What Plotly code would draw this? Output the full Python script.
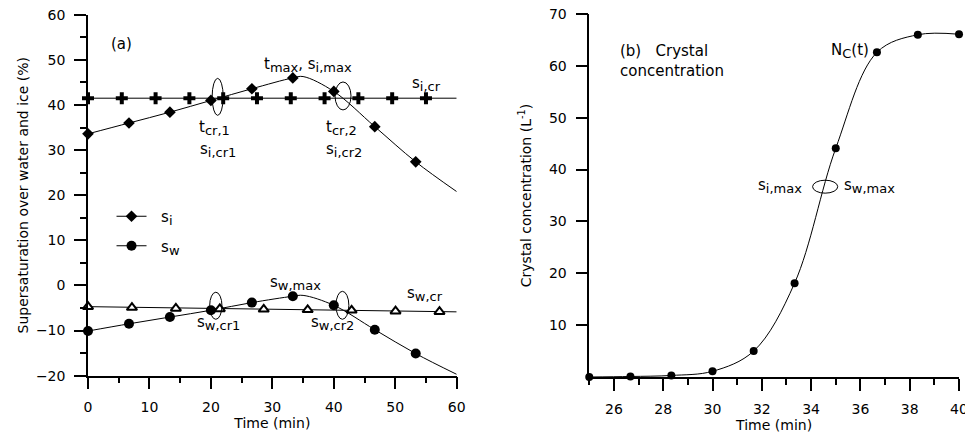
import plotly.graph_objects as go

# ---- Panel (a): supersaturation over ice (s_i) and water (s_w) ----
si_t = [0, 6.67, 13.33, 20, 26.67, 33.33, 40, 46.67, 53.33]
si_val = [33.6, 36.0, 38.4, 41.0, 43.6, 46.0, 43.0, 35.2, 27.4]
si_curve_t = [0, 6.67, 13.33, 20, 26.67, 33.33, 35, 40, 46.67, 53.33, 60]
si_curve_val = [33.6, 36.0, 38.4, 41.0, 43.6, 46.0, 46.3, 43.0, 35.2, 27.4, 20.8]

sw_t = [0, 6.67, 13.33, 20, 26.67, 33.33, 40, 46.67, 53.33]
sw_val = [-10.1, -8.5, -7.0, -5.5, -3.8, -2.4, -4.4, -9.8, -15.1]
sw_curve_t = [0, 6.67, 13.33, 20, 26.67, 33.33, 35, 40, 46.67, 53.33, 60]
sw_curve_val = [-10.1, -8.5, -7.0, -5.5, -3.8, -2.4, -2.2, -4.4, -9.8, -15.1, -19.7]

sicr_t = [0, 5.5, 11, 16.5, 22, 27.5, 33, 38.5, 44, 49.5, 55]
sicr_val = [41.5] * len(sicr_t)
sicr_line_t = [0, 60]
sicr_line_val = [41.5, 41.5]

swcr_t = [0, 7.15, 14.3, 21.45, 28.6, 35.75, 42.9, 50.05, 57.2]
swcr_val = [-4.7, -4.9, -5.1, -5.2, -5.3, -5.4, -5.5, -5.7, -5.8]
swcr_line_t = [0, 60]
swcr_line_val = [-4.7, -5.85]

# ---- Panel (b): crystal concentration ----
nc_t = [25, 26.67, 28.33, 30, 31.67, 33.33, 35, 36.67, 38.33, 40]
nc_val = [0.0, 0.1, 0.3, 1.1, 5.0, 18.1, 44.1, 62.6, 66.0, 66.1]

FONT = "DejaVu Sans"
BLACK = "#000000"
ANN_SIZE = 15


def sub(s):
    """Subscript rendered close to full size."""
    return "<sub><span style='font-size:13px'>%s</span></sub>" % s


fig = go.Figure()


def line(x, y, xa="x", ya="y", shape="linear"):
    fig.add_trace(go.Scatter(x=x, y=y, mode="lines", xaxis=xa, yaxis=ya,
                             line=dict(color=BLACK, width=1, shape=shape, smoothing=1.0),
                             showlegend=False, hoverinfo="skip", cliponaxis=False))


def markers(x, y, symbol, size, xa="x", ya="y", fill=BLACK, lw=0):
    fig.add_trace(go.Scatter(x=x, y=y, mode="markers", xaxis=xa, yaxis=ya,
                             marker=dict(symbol=symbol, size=size, color=fill,
                                         line=dict(color=BLACK, width=lw)),
                             showlegend=False, cliponaxis=False))


line(sicr_line_t, sicr_line_val)
line(swcr_line_t, swcr_line_val)
line(si_curve_t, si_curve_val, shape="spline")
line(sw_curve_t, sw_curve_val, shape="spline")
markers(sicr_t, sicr_val, "cross", 10)
markers(swcr_t, swcr_val, "triangle-up", 9, fill="white", lw=2)
markers(si_t, si_val, "diamond", 9)
markers(sw_t, sw_val, "circle", 10)

line(nc_t, nc_val, "x2", "y2", shape="spline")
markers(nc_t, nc_val, "circle", 8, "x2", "y2")

# legend entries for panel (a)
NB = "\u00a0\u00a0"
for name, sym, sz, grp in [(NB + "s" + sub("i"), "diamond", 9, "a"),
                           (NB + "s" + sub("w"), "circle", 10, "b")]:
    fig.add_trace(go.Scatter(x=[None], y=[None], mode="lines+markers", name=name,
                             legendgroup=grp,
                             line=dict(color=BLACK, width=1),
                             marker=dict(symbol=sym, size=sz, color=BLACK)))

# annotations
ann = []


def txt(x, y, s, xa="x", ya="y", xanchor="center", align="center"):
    ann.append(dict(x=x, y=y, xref=xa, yref=ya, text=s, showarrow=False,
                    xanchor=xanchor, yanchor="middle", align=align,
                    font=dict(family=FONT, size=ANN_SIZE, color=BLACK)))


txt(5.4, 53.5, "(a)")
txt(35.8, 48.8, "t" + sub("max") + ", s" + sub("i,max"))
txt(55.1, 44.6, "s" + sub("i,cr"))
txt(20.6, 34.9, "t" + sub("cr,1"))
txt(21.1, 30.0, "s" + sub("i,cr1"))
txt(41.3, 34.9, "t" + sub("cr,2"))
txt(41.7, 30.0, "s" + sub("i,cr2"))
txt(33.8, 0.6, "s" + sub("w,max"))
txt(54.8, -2.0, "s" + sub("w,cr"))
txt(21.3, -8.4, "s" + sub("w,cr1"))
txt(39.8, -8.4, "s" + sub("w,cr2"))

txt(26.16, 61.0, "(b)   Crystal<br>concentration", "x2", "y2", xanchor="left", align="left")
txt(36.45, 62.9, "N" + sub("C") + "(t)", "x2", "y2", xanchor="right")
txt(32.72, 36.8, "s" + sub("i,max"), "x2", "y2")
txt(36.36, 36.8, "s" + sub("w,max"), "x2", "y2")

# ellipses marking crossing / maximum points
shapes = []


def ellipse(x0, x1, y0, y1, xa="x", ya="y"):
    shapes.append(dict(type="circle", xref=xa, yref=ya, x0=x0, x1=x1, y0=y0, y1=y1,
                       line=dict(color=BLACK, width=1)))


ellipse(20.2, 22.0, 37.7, 45.9)
ellipse(40.2, 42.8, 38.9, 45.1)
ellipse(19.8, 21.8, -7.5, -1.5)
ellipse(40.35, 42.45, -7.5, -1.3)
ellipse(34.06, 35.08, 35.45, 37.95, "x2", "y2")

axis_common = dict(showline=True, linecolor=BLACK, linewidth=1.5, showgrid=False,
                   zeroline=False, ticks="outside", tickcolor=BLACK, tickwidth=1.5,
                   ticklen=12, automargin=False, ticklabelstandoff=6,
                   ticklabeloverflow="allow",
                   tickfont=dict(family=FONT, size=14, color=BLACK),
                   title_font=dict(family=FONT, size=14, color=BLACK))
minor_common = dict(ticklen=6, tickcolor=BLACK, tickwidth=1.5, ticks="outside")

fig.update_layout(
    width=965, height=435,
    margin=dict(l=88, r=6, t=14, b=58),
    paper_bgcolor="white", plot_bgcolor="white",
    font=dict(family=FONT, size=14, color=BLACK),
    showlegend=True,
    legend=dict(x=0.027, y=0.4876, xanchor="left", yanchor="top",
                bgcolor="rgba(0,0,0,0)", borderwidth=0, tracegroupgap=7,
                font=dict(family=FONT, size=ANN_SIZE, color=BLACK)),
    annotations=ann,
    shapes=shapes,
    xaxis=dict(axis_common, domain=[0, 0.4233], range=[0, 60], dtick=10, tick0=0,
               minor=dict(minor_common, dtick=5),
               anchor="y", title=dict(text="Time (min)", standoff=3)),
    yaxis=dict(axis_common, domain=[0.0036, 0.998], range=[-20, 60], dtick=10, tick0=0,
               minor=dict(minor_common, dtick=5),
               anchor="x", title=dict(text="Supersaturation over water and ice (%)", standoff=4)),
    xaxis2=dict(axis_common, domain=[0.5755, 1.0], range=[25, 40], dtick=2, tick0=26,
                minor=dict(minor_common, dtick=1, tick0=25),
                anchor="y2", title=dict(text="Time (min)", standoff=3)),
    yaxis2=dict(axis_common, domain=[0, 1], range=[0, 70],
                tickvals=[10, 20, 30, 40, 50, 60, 70],
                anchor="x2", title=dict(text="Crystal concentration (L<sup>-1</sup>)", standoff=14)),
)

fig.write_html("out.html")
